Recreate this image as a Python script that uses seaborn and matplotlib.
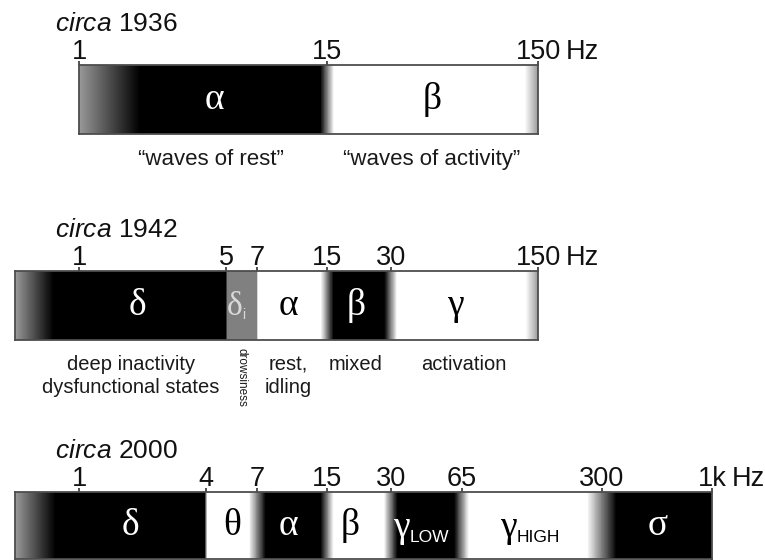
import numpy as np
import seaborn as sns
import matplotlib.pyplot as plt
from matplotlib.ticker import NullLocator

# ---- data: band edges in Hz, band shade (0 = black, 1 = white), edge blur in decades
years = ['1936', '1942', '2000']

edges_1936 = [1, 15, 150]
shades_1936 = [0.0, 1.0]
blur_1936 = [0.065]
fade_1936 = [0.29, 0.065]
ticks_1936 = [1, 15, 150]
greek_1936 = ['α', 'β']
sub_1936 = ['', '']
greek_at_1936 = [4.4, 47]
notes_1936 = ['“waves of rest”', '“waves of activity”']
notes_at_1936 = [4.2, 47]

edges_1942 = [0.5, 5, 7, 15, 30, 150]
shades_1942 = [0.0, 0.5, 1.0, 0.0, 1.0]
blur_1942 = [0.004, 0.004, 0.06, 0.06]
fade_1942 = [0.18, 0.06]
ticks_1942 = [1, 5, 7, 15, 30, 150]
greek_1942 = ['δ', 'δ', 'α', 'β', 'γ']
sub_1942 = ['', 'i', '', '', '']
greek_at_1942 = [1.9, 5.95, 9.8, 20.5, 61]
notes_1942 = ['deep inactivity\ndysfunctional states', 'rest,\nidling', 'mixed', 'activation']
notes_at_1942 = [1.76, 9.8, 20.5, 67]
drowsy_at = 5.86

edges_2000 = [0.5, 4, 7, 15, 30, 65, 300, 1000]
shades_2000 = [0.0, 1.0, 0.0, 1.0, 0.0, 1.0, 0.0]
blur_2000 = [0.012, 0.08, 0.06, 0.065, 0.07, 0.14]
fade_2000 = [0.19, 0.0]
ticks_2000 = [1, 4, 7, 15, 30, 65, 300, 1000]
greek_2000 = ['δ', 'θ', 'α', 'β', 'γ', 'γ', 'σ']
sub_2000 = ['', '', '', '', 'LOW', 'HIGH', '']
greek_at_2000 = [1.75, 5.3, 9.8, 19.2, 37, 119, 550]

sns.set_theme(style='white')
plt.rcParams['font.family'] = ['Liberation Sans', 'DejaVu Sans']
plt.rcParams['mathtext.fontset'] = 'custom'
plt.rcParams['mathtext.rm'] = 'Liberation Sans'
plt.rcParams['mathtext.it'] = 'Liberation Sans:italic'

cmap = sns.color_palette('gray', as_cmap=True)
END_GRAY = 0.6
PX_PER_DEC, PX_1HZ = 211, 79   # shared log frequency scale of the three strips
W, H = 765, 560


def profile(edges, shades, blur, fade, n=1500):
    lo, hi = np.log10(edges[0]), np.log10(edges[-1])
    xs, ys = [lo], [END_GRAY if fade[0] > 0 else shades[0]]
    if fade[0] > 0:
        xs.append(lo + fade[0]); ys.append(shades[0])
    for i, e in enumerate(edges[1:-1]):
        le = np.log10(e)
        xs += [le - blur[i] / 2, le + blur[i] / 2]
        ys += [shades[i], shades[i + 1]]
    if fade[1] > 0:
        xs += [hi - fade[1], hi]; ys += [shades[-1], END_GRAY]
    else:
        xs.append(hi); ys.append(shades[-1])
    grid = np.linspace(lo, hi, n + 1)
    mid = (grid[:-1] + grid[1:]) / 2
    return 10 ** grid, np.interp(mid, xs, ys)


def tick_text(f):
    return '1k' if f == 1000 else str(f)


fig = plt.figure(figsize=(W / 100, H / 100), dpi=100)

panels = [
    (edges_1936, shades_1936, blur_1936, fade_1936, ticks_1936, greek_1936, sub_1936, greek_at_1936, 65, 69, 20),
    (edges_1942, shades_1942, blur_1942, fade_1942, ticks_1942, greek_1942, sub_1942, greek_at_1942, 271, 69, 20),
    (edges_2000, shades_2000, blur_2000, fade_2000, ticks_2000, greek_2000, sub_2000, greek_at_2000, 492, 67, 14.5),
]

axes = []
for k, (edges, shades, blur, fade, ticks, greek, sub, g_at, top, hgt, hz_gap) in enumerate(panels):
    x0 = PX_1HZ + PX_PER_DEC * np.log10(edges[0])
    x1 = PX_1HZ + PX_PER_DEC * np.log10(edges[-1])
    ax = fig.add_axes([x0 / W, 1 - (top + hgt) / H, (x1 - x0) / W, hgt / H])
    axes.append(ax)

    fx, vals = profile(edges, shades, blur, fade)
    ax.pcolormesh(fx, [0, 1], vals[None, :], cmap=cmap, vmin=0, vmax=1,
                  shading='flat', rasterized=True)
    ax.set_xscale('log')
    ax.set_xlim(edges[0], edges[-1])
    ax.set_ylim(0, 1)
    ax.set_yticks([])
    ax.set_xticks(ticks)
    ax.set_xticklabels([tick_text(t) for t in ticks])
    ax.xaxis.set_minor_locator(NullLocator())
    ax.xaxis.tick_top()
    ax.tick_params(axis='x', top=True, bottom=False, direction='out', length=3,
                   width=1.2, color='#333333', pad=-3, labelsize=19.5, labelcolor='#111111')
    for s in ax.spines.values():
        s.set_visible(True)
        s.set_color('#4d4d4d')
        s.set_linewidth(1.3)

    ax.annotate('Hz', xy=(edges[-1], 1), xycoords=('data', 'axes fraction'),
                xytext=(hz_gap, 0), textcoords='offset points',
                ha='left', va='bottom', fontsize=19.5, color='#111111')

    fig.text(55 / W, 1 - (top - 34) / H, r'$\mathit{circa}$ ' + years[k],
             fontsize=19, color='#111111', va='baseline', ha='left')

    for i, (g, s, f) in enumerate(zip(greek, sub, g_at)):
        shade = shades[i]
        col = '#d9d9d9' if 0.2 < shade < 0.8 else ('white' if shade < 0.5 else 'black')
        if s:
            big = len(s) > 1
            ax.text(f, 0.33 if big else 0.36, g, ha='right', va='baseline',
                    fontsize=27 if big else 24, family='Liberation Serif', color=col)
            ax.text(f, 0.25 if big else 0.3, s, ha='left', va='baseline',
                    fontsize=12.5 if big else 10, color=col)
        else:
            ax.text(f, 0.5, g, ha='center', va='center', fontsize=27,
                    family='Liberation Serif', color=col)

for note, f in zip(notes_1936, notes_at_1936):
    axes[0].annotate(note, xy=(f, 0), xycoords=('data', 'axes fraction'),
                     xytext=(0, -11), textcoords='offset points',
                     ha='center', va='top', fontsize=16, color='#1a1a1a')

for note, f in zip(notes_1942, notes_at_1942):
    axes[1].annotate(note, xy=(f, 0), xycoords=('data', 'axes fraction'),
                     xytext=(0, -11), textcoords='offset points',
                     ha='center', va='top', fontsize=14.5, color='#1a1a1a',
                     linespacing=1.25)

axes[1].annotate('drowsiness', xy=(drowsy_at, 0), xycoords=('data', 'axes fraction'),
                 xytext=(0, -6), textcoords='offset points', rotation=-90,
                 ha='center', va='top', fontsize=8.5, color='#1a1a1a')

fig.savefig('out.png', dpi=100, facecolor='white')
